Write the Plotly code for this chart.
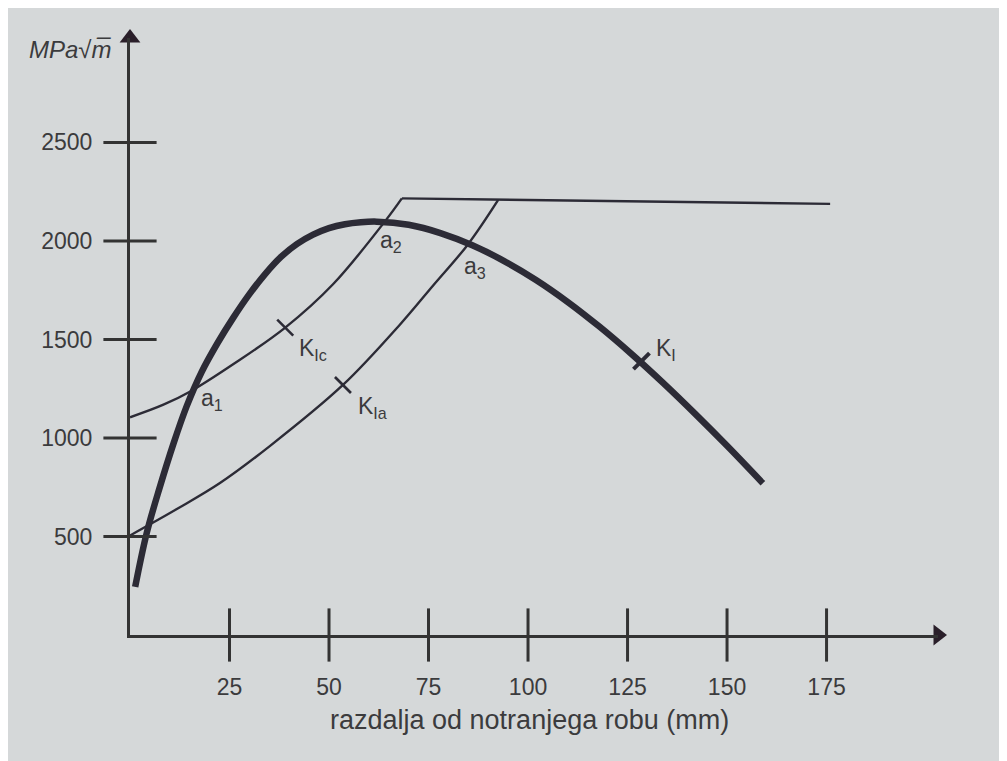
import plotly.graph_objects as go

# ---- data ----
ki_x = [1.3, 4.2, 7.5, 10.9, 14.2, 18, 22, 26, 30, 34, 38, 42, 46, 50, 54, 58, 62,
        70, 78, 86, 94, 102, 110, 118, 126, 134, 142, 150, 159]
ki_y = [244, 518, 751, 970, 1159, 1335, 1482, 1612, 1730, 1833, 1920, 1985, 2032, 2065, 2085, 2095, 2098,
        2082, 2040, 1978, 1898, 1802, 1690, 1564, 1426, 1278, 1122, 960, 770]

kic_x = [0, 8.4, 15.5, 26, 39, 51, 64, 68.3]
kic_y = [1105, 1169, 1240, 1375, 1560, 1780, 2098, 2216]

kia_x = [0, 12.1, 22.6, 35.2, 53.5, 67.8, 76, 85, 92.5]
kia_y = [505, 643, 771, 960, 1269, 1575, 1770, 1985, 2208]

plateau_x = [68.3, 175.9]
plateau_y = [2216, 2188]

x_ticks = [25, 50, 75, 100, 125, 150, 175]
y_ticks = [500, 1000, 1500, 2000, 2500]

x_max = 203
y_max = 3030

# point labels: (x, y, text)
labels = [
    (20.6, 1193, "a<sub>1</sub>"),
    (65.6, 1997, "a<sub>2</sub>"),
    (86.6, 1866, "a<sub>3</sub>"),
    (46.0, 1450, "K<sub>Ic</sub>"),
    (61.0, 1157, "K<sub>Ia</sub>"),
    (134.6, 1447, "K<sub>I</sub>"),
]

# tick marks drawn on the curves: (x, y, symbol)
curve_ticks = [
    (39, 1560, "line-nw"),
    (53.5, 1269, "line-nw"),
    (128.5, 1390, "line-ne"),
]

LINE = "#2c2b36"
TEXT = "#3b3b3d"
BG = "#d5d8d9"
FONT = "Liberation Sans"

fig = go.Figure()

thin = dict(color=LINE, width=2.4, shape="spline", smoothing=1.0)
fig.add_trace(go.Scatter(x=kic_x, y=kic_y, mode="lines", line=thin, hoverinfo="skip"))
fig.add_trace(go.Scatter(x=kia_x, y=kia_y, mode="lines", line=thin, hoverinfo="skip"))
fig.add_trace(go.Scatter(x=plateau_x, y=plateau_y, mode="lines",
                         line=dict(color=LINE, width=2.4), hoverinfo="skip"))
fig.add_trace(go.Scatter(x=ki_x, y=ki_y, mode="lines",
                         line=dict(color=LINE, width=6.5, shape="spline", smoothing=1.0),
                         hoverinfo="skip"))

# tick marks on curves
fig.add_trace(go.Scatter(
    x=[c[0] for c in curve_ticks], y=[c[1] for c in curve_ticks], mode="markers",
    marker=dict(symbol=[c[2] for c in curve_ticks], size=16,
                line=dict(color=LINE, width=[2.6, 2.6, 4])),
    cliponaxis=False, hoverinfo="skip"))

# axis ticks crossing the axes
fig.add_trace(go.Scatter(
    x=x_ticks, y=[0] * len(x_ticks), mode="markers",
    marker=dict(symbol="line-ns", size=38, line=dict(color="#333", width=3)),
    cliponaxis=False, hoverinfo="skip"))
fig.add_trace(go.Scatter(
    x=[0] * len(y_ticks), y=y_ticks, mode="markers",
    marker=dict(symbol="line-ew", size=38, line=dict(color="#333", width=3)),
    cliponaxis=False, hoverinfo="skip"))

# arrow heads
fig.add_trace(go.Scatter(
    x=[x_max, 0], y=[0, y_max], mode="markers",
    marker=dict(symbol=["triangle-right", "triangle-up"], size=18, color="#2a1f2a"),
    cliponaxis=False, hoverinfo="skip"))

for lx, ly, lt in labels:
    fig.add_annotation(x=lx, y=ly, text=lt, showarrow=False,
                       font=dict(family=FONT, size=23, color=TEXT))

fig.add_annotation(xref="paper", yref="paper", x=0.495, y=-0.142,
                   xanchor="center", yanchor="middle",
                   text="razdalja od notranjega robu (mm)", showarrow=False,
                   font=dict(family=FONT, size=27, color=TEXT))
fig.add_annotation(xref="paper", yref="paper", x=-0.074, y=0.98,
                   xanchor="center", yanchor="middle",
                   text="<i>MPa</i>√<i>m̅</i>", showarrow=False,
                   font=dict(family=FONT, size=24, color=TEXT))

fig.update_layout(
    width=1007, height=761,
    margin=dict(l=122, r=77, t=30, b=134),
    paper_bgcolor=BG, plot_bgcolor=BG,
    showlegend=False,
    xaxis=dict(range=[0, x_max], showgrid=False, zeroline=False,
               showline=True, linecolor="#333", linewidth=3,
               tickvals=x_ticks, ticks="", ticklabelstandoff=29,
               tickfont=dict(family=FONT, size=23, color=TEXT)),
    yaxis=dict(range=[0, y_max], showgrid=False, zeroline=False,
               showline=True, linecolor="#333", linewidth=3,
               tickvals=y_ticks, ticks="", ticklabelstandoff=30,
               tickfont=dict(family=FONT, size=23, color=TEXT)),
)

fig.write_html("out.html")
